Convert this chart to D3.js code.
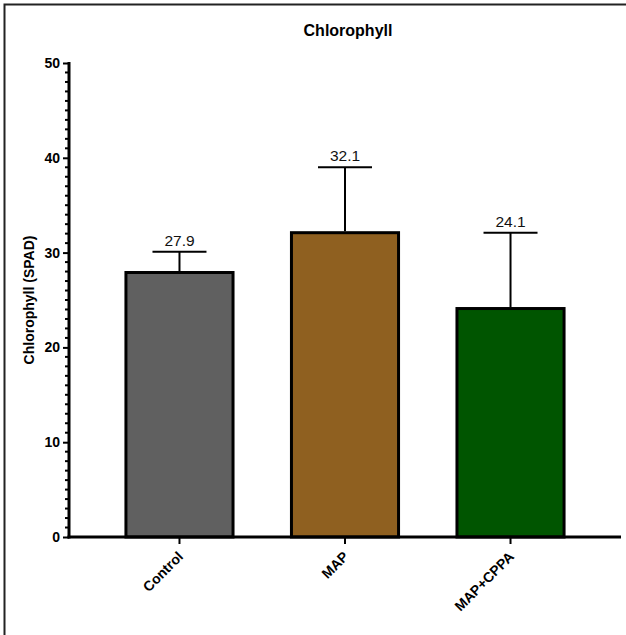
<!DOCTYPE html>
<html>
  <head>
    <meta charset="utf-8">
    <script src="https://d3js.org/d3.v7.min.js"></script>
    <style>
      body { margin: 0; background: #fff; }
      text { font-family: "Liberation Sans", Arial, sans-serif; }
    </style>
  </head>
  <body>
    <div id="chart"></div>
    <script>
      // data
      let groups = ['Control', 'MAP', 'MAP+CPPA'];
      let means = [27.9, 32.1, 24.1];
      let sds = [2.2, 6.9, 8.0];
      let colors = ['#606060', '#8f6020', '#005500'];
      let majorTicks = [0, 10, 20, 30, 40, 50];

      let width = 626, height = 635;
      let mLeft = 69, mRight = 621, mTop = 63, mBottom = 537;

      let svg = d3.select('#chart').append('svg')
        .attr('width', width)
        .attr('height', height);

      // frame (only top and left edges show in the crop)
      svg.append('path')
        .attr('d', 'M4.5,' + height + 'V4.5H' + width)
        .attr('fill', 'none')
        .attr('stroke', '#222')
        .attr('stroke-width', 2);

      let x = d3.scaleBand()
        .domain(groups)
        .range([mLeft, mRight])
        .paddingInner(0.353)
        .paddingOuter(0.344);

      let y = d3.scaleLinear()
        .domain([0, 50])
        .range([mBottom, mTop]);

      // bars
      svg.selectAll('.bar')
        .data(groups)
        .enter().append('rect')
        .attr('class', 'bar')
        .attr('x', d => x(d))
        .attr('y', (d, i) => y(means[i]))
        .attr('width', x.bandwidth())
        .attr('height', (d, i) => y(0) - y(means[i]))
        .attr('fill', (d, i) => colors[i])
        .attr('stroke', '#000')
        .attr('stroke-width', 3);

      // error bars (upper only)
      let errs = svg.selectAll('.err')
        .data(groups)
        .enter().append('g')
        .attr('class', 'err')
        .attr('stroke', '#000')
        .attr('stroke-width', 2);

      errs.append('line')
        .attr('x1', d => x(d) + x.bandwidth() / 2)
        .attr('x2', d => x(d) + x.bandwidth() / 2)
        .attr('y1', (d, i) => y(means[i]) - 1.5)
        .attr('y2', (d, i) => y(means[i] + sds[i]));

      errs.append('line')
        .attr('x1', d => x(d) + x.bandwidth() / 2 - 27)
        .attr('x2', d => x(d) + x.bandwidth() / 2 + 27)
        .attr('y1', (d, i) => y(means[i] + sds[i]))
        .attr('y2', (d, i) => y(means[i] + sds[i]));

      // value labels
      svg.selectAll('.val')
        .data(groups)
        .enter().append('text')
        .attr('class', 'val')
        .attr('x', d => x(d) + x.bandwidth() / 2)
        .attr('y', (d, i) => y(means[i] + sds[i]) - 6)
        .attr('text-anchor', 'middle')
        .attr('font-size', 15.5)
        .attr('fill', '#111')
        .text((d, i) => means[i].toFixed(1));

      // y axis: minor ticks every 1
      let minor = d3.range(0, 51).filter(v => v % 10 != 0);
      svg.selectAll('.minor')
        .data(minor)
        .enter().append('line')
        .attr('x1', mLeft - 4)
        .attr('x2', mLeft)
        .attr('y1', d => y(d))
        .attr('y2', d => y(d))
        .attr('stroke', '#000')
        .attr('stroke-width', 2);

      let yAxis = svg.append('g')
        .attr('transform', 'translate(' + mLeft + ',0)')
        .call(d3.axisLeft(y).tickValues(majorTicks).tickSize(6).tickPadding(3));
      yAxis.select('.domain').attr('stroke-width', 3).attr('d', 'M0,' + (mBottom + 1.5) + 'V' + (mTop - 1));
      yAxis.selectAll('.tick line').attr('stroke-width', 2);
      yAxis.selectAll('.tick text')
        .attr('font-size', 14)
        .attr('font-weight', 'bold')
        .attr('fill', '#000')
        .attr('font-family', '"Liberation Sans", Arial, sans-serif');

      // x axis
      let xAxis = svg.append('g')
        .attr('transform', 'translate(0,' + mBottom + ')')
        .call(d3.axisBottom(x).tickSize(7).tickSizeOuter(0));
      xAxis.select('.domain').attr('stroke-width', 3).attr('d', 'M' + (mLeft - 1.5) + ',0H' + mRight);
      xAxis.selectAll('.tick line').attr('stroke-width', 2);
      xAxis.selectAll('.tick text')
        .attr('font-size', 14)
        .attr('font-weight', 'bold')
        .attr('fill', '#000')
        .attr('font-family', '"Liberation Sans", Arial, sans-serif')
        .attr('text-anchor', 'end')
        .attr('x', 0)
        .attr('y', 0)
        .attr('dy', '0.35em')
        .attr('transform', 'translate(1,17) rotate(-45)');

      // titles
      svg.append('text')
        .attr('x', 348)
        .attr('y', 36)
        .attr('text-anchor', 'middle')
        .attr('font-size', 16)
        .attr('font-weight', 'bold')
        .text('Chlorophyll');

      svg.append('text')
        .attr('transform', 'translate(34,' + ((mTop + mBottom) / 2) + ') rotate(-90)')
        .attr('text-anchor', 'middle')
        .attr('font-size', 14)
        .attr('font-weight', 'bold')
        .text('Chlorophyll (SPAD)');
    </script>
  </body>
</html>
